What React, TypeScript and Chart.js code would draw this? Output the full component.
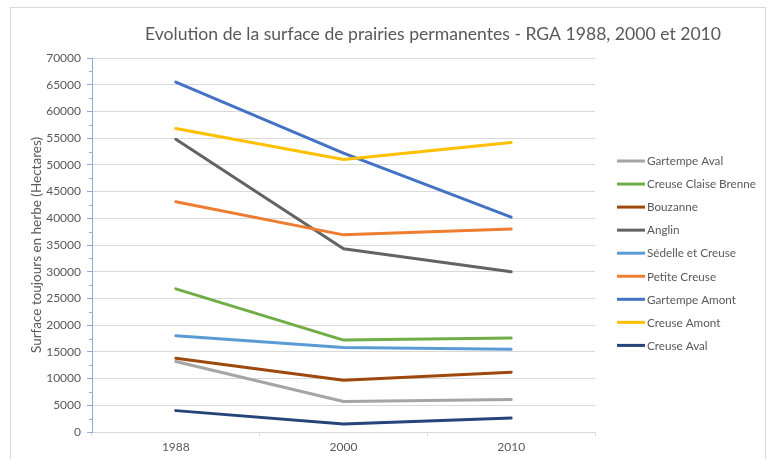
import React, { useEffect, useRef } from "react";
import { Chart, registerables } from "chart.js";

Chart.register(...registerables);

const TITLE = "Evolution de la surface de prairies permanentes - RGA 1988, 2000 et 2010";
const Y_TITLE = "Surface toujours en herbe (Hectares)";
const categories = ["1988", "2000", "2010"];

const seriesNames = [
  "Gartempe Aval",
  "Creuse Claise Brenne",
  "Bouzanne",
  "Anglin",
  "Sédelle et Creuse",
  "Petite Creuse",
  "Gartempe Amont",
  "Creuse Amont",
  "Creuse Aval",
];
const gartempeAval = [13200, 5700, 6100];
const creuseClaiseBrenne = [26800, 17200, 17600];
const bouzanne = [13800, 9700, 11200];
const anglin = [54800, 34300, 30000];
const sedelleEtCreuse = [18000, 15800, 15500];
const petiteCreuse = [43100, 36900, 38000];
const gartempeAmont = [65500, 52200, 40200];
const creuseAmont = [56800, 51000, 54200];
const creuseAval = [4000, 1500, 2600];
const seriesValues = [
  gartempeAval,
  creuseClaiseBrenne,
  bouzanne,
  anglin,
  sedelleEtCreuse,
  petiteCreuse,
  gartempeAmont,
  creuseAmont,
  creuseAval,
];
const seriesColors = [
  "#A5A5A5",
  "#70AD47",
  "#9E480E",
  "#636363",
  "#5B9BD5",
  "#ED7D31",
  "#4472C4",
  "#FFC000",
  "#264478",
];

const FONT = "Lato, 'Open Sans', sans-serif";
const TEXT = "#595959";
const AXIS_BLUE = "#8FAADC";

const decorPlugin = {
  id: "decor",
  beforeDraw(chart: any) {
    const ctx = chart.ctx;
    ctx.save();
    ctx.fillStyle = "#ffffff";
    ctx.fillRect(0, 0, chart.width, chart.height);
    ctx.strokeStyle = "#D9D9D9";
    ctx.lineWidth = 1;
    ctx.strokeRect(10.5, 7.5, 755, 470);
    ctx.restore();
  },
  afterDraw(chart: any) {
    const ctx = chart.ctx;
    const ys = chart.scales.y;
    ctx.save();
    ctx.strokeStyle = AXIS_BLUE;
    ctx.lineWidth = 1;
    for (let v = 2500; v < 70000; v += 5000) {
      const py = Math.round(ys.getPixelForValue(v)) + 0.5;
      ctx.beginPath();
      ctx.moveTo(ys.right - 3, py);
      ctx.lineTo(ys.right, py);
      ctx.stroke();
    }
    ctx.fillStyle = TEXT;
    ctx.font = `17.6px ${FONT}`;
    ctx.textAlign = "center";
    ctx.textBaseline = "middle";
    ctx.fillText(TITLE, 433, 34);
    ctx.font = `11.7px ${FONT}`;
    ctx.textAlign = "left";
    chart.data.datasets.forEach((ds: any, i: number) => {
      const y = 161 + i * 23.05;
      ctx.strokeStyle = ds.borderColor;
      ctx.lineWidth = 3;
      ctx.beginPath();
      ctx.moveTo(617, y);
      ctx.lineTo(645, y);
      ctx.stroke();
      ctx.fillStyle = TEXT;
      ctx.fillText(ds.label, 647, y + 0.5);
    });
    ctx.restore();
  },
};

export default function App() {
  const ref = useRef<HTMLCanvasElement>(null);
  useEffect(() => {
    if (!ref.current) return;
    const n = seriesNames.length;
    const chart = new Chart(ref.current, {
      type: "line",
      data: {
        labels: categories,
        datasets: seriesNames.map((name, i) => ({
          label: name,
          data: seriesValues[i],
          borderColor: seriesColors[i],
          backgroundColor: seriesColors[i],
          borderWidth: 3,
          borderCapStyle: "round",
          borderJoinStyle: "round",
          pointRadius: 0,
          tension: 0,
          order: n - i,
        })),
      },
      options: {
        responsive: false,
        animation: false,
        layout: { padding: { left: 26, right: 172, top: 58, bottom: 0 } },
        plugins: {
          legend: { display: false },
          title: { display: false },
          tooltip: { enabled: false },
        },
        scales: {
          x: {
            offset: true,
            grid: {
              display: true,
              drawOnChartArea: false,
              offset: true,
              color: "#D9D9D9",
              tickColor: "#D9D9D9",
              tickLength: 4,
            },
            border: { display: true, color: "#D9D9D9" },
            ticks: { color: TEXT, font: { family: FONT, size: 12 }, padding: 4 },
            afterFit(scale: any) {
              scale.height = 27;
            },
          },
          y: {
            min: 0,
            max: 70000,
            ticks: {
              stepSize: 5000,
              color: TEXT,
              font: { family: FONT, size: 12 },
              padding: 6,
              callback: (v: any) => String(v),
            },
            grid: {
              color: "#D9D9D9",
              tickColor: AXIS_BLUE,
              tickLength: 5,
            },
            border: { display: true, color: AXIS_BLUE },
            title: {
              display: true,
              text: Y_TITLE,
              color: TEXT,
              font: { family: FONT, size: 13.5 },
              padding: 3,
            },
            afterFit(scale: any) {
              scale.width = 66;
            },
          },
        },
      },
      plugins: [decorPlugin],
    } as any);
    return () => chart.destroy();
  }, []);
  return (
    <div style={{ position: "fixed", left: 0, top: 0, width: 767, height: 459 }}>
      <canvas ref={ref} width={767} height={459} style={{ width: 767, height: 459 }} />
    </div>
  );
}
